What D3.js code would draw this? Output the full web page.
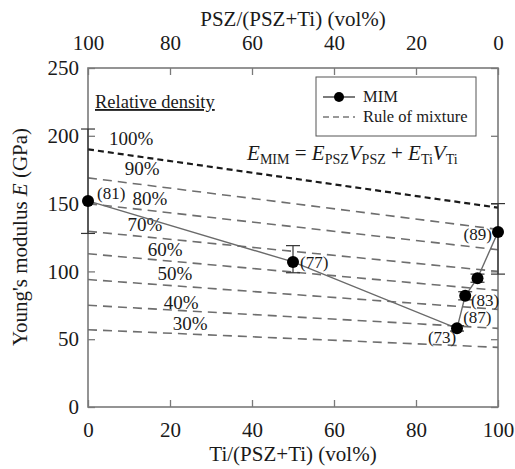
<!DOCTYPE html>
<html>
<head>
<meta charset="utf-8">
<script src="https://cdn.jsdelivr.net/npm/d3@7"></script>
</head>
<body style="margin:0">
<svg id="chart" width="515" height="469"></svg>
<script>
// MIM measured points
const tiContent = [0, 50, 90, 92, 95, 100];
const mimModulus = [152, 107, 58, 82, 95, 129];
const errLow = [128, 99, 56, 79, 92, 98];
const errHigh = [205, 119, 60, 85, 98, 150];

// relative density labels next to the points
const pointLabels = ["(81)", "(77)", "(73)", "(87)", "(83)", "(89)"];
const pointLabelX = [2.2, 51.7, 82.9, 91.5, 93.4, 98.5];
const pointLabelE = [153.4, 102.5, 47.2, 62, 74.5, 123];
const pointLabelAnchor = ["start", "start", "start", "start", "start", "end"];

// rule of mixture lines (E at Ti = 0 and Ti = 100)
const densities = ["100%", "90%", "80%", "70%", "60%", "50%", "40%", "30%"];
const ruleLeftE = [190, 169, 150, 129.6, 113, 94, 75, 57];
const ruleRightE = [147, 131, 116, 100, 86, 72, 58, 44];
const densityLabelX = [10.5, 13.2, 15.1, 13.9, 18.8, 21.2, 22.7, 24.9];
const densityLabelE = [193, 171, 149, 130, 111, 94, 72, 57];

const xTicks = [0, 20, 40, 60, 80, 100];
const yTicks = [0, 50, 100, 150, 200, 250];

const fontFam = '"Liberation Serif", "Times New Roman", Tinos, serif';

const W = 515, H = 469;
const margin = { top: 68, right: 17, bottom: 62, left: 88 },
  width = W - margin.left - margin.right,
  height = H - margin.top - margin.bottom;

const svg = d3.select("#chart").style("font-family", fontFam);

svg.append("rect").attr("width", W).attr("height", H).attr("fill", "#fff");

const g = svg.append("g")
  .attr("transform", `translate(${margin.left},${margin.top})`);

const x = d3.scaleLinear().domain([0, 100]).range([0, width]);
const xTop = d3.scaleLinear().domain([100, 0]).range([0, width]);
const y = d3.scaleLinear().domain([0, 250]).range([height, 0]);

const frameColor = "#7a7a7a";

// helper so every label gets the same serif face
function label(parent, txt, px, py, size, anchor) {
  return parent.append("text")
    .attr("x", px)
    .attr("y", py)
    .attr("text-anchor", anchor || "start")
    .attr("fill", "#1a1a1a")
    .style("font-family", fontFam)
    .style("font-size", size + "px")
    .text(txt);
}

// axes with inward ticks
function styleAxis(sel) {
  sel.attr("font-family", null).attr("font-size", null);
  sel.select(".domain").remove();
  sel.selectAll(".tick line").attr("stroke", frameColor).attr("stroke-width", 1.3);
  sel.selectAll("text")
    .attr("fill", "#1a1a1a")
    .style("font-family", fontFam)
    .style("font-size", "21px");
}

g.append("g")
  .attr("transform", `translate(0,${height})`)
  .call(d3.axisBottom(x).tickValues(xTicks).tickSizeInner(-7).tickSizeOuter(0).tickPadding(15))
  .call(styleAxis);

g.append("g")
  .call(d3.axisTop(xTop).tickValues(xTicks).tickSizeInner(-7).tickSizeOuter(0).tickPadding(18))
  .call(styleAxis);

g.append("g")
  .call(d3.axisLeft(y).tickValues(yTicks).tickSizeInner(-7).tickSizeOuter(0).tickPadding(9))
  .call(styleAxis);

g.append("g")
  .attr("transform", `translate(${width},0)`)
  .call(d3.axisRight(y).tickValues(yTicks).tickSizeInner(-7).tickSizeOuter(0).tickFormat(""))
  .call(styleAxis);

// frame
g.append("rect")
  .attr("width", width)
  .attr("height", height)
  .attr("fill", "none")
  .attr("stroke", frameColor)
  .attr("stroke-width", 1.6);

// rule of mixture lines
densities.forEach((d, i) => {
  g.append("line")
    .attr("x1", x(0)).attr("y1", y(ruleLeftE[i]))
    .attr("x2", x(100)).attr("y2", y(ruleRightE[i]))
    .attr("stroke", i === 0 ? "#1a1a1a" : "#6e6e6e")
    .attr("stroke-width", i === 0 ? 2.2 : 1.6)
    .attr("stroke-dasharray", i === 0 ? "6,4" : "9,6");

  label(g, d, x(densityLabelX[i]), y(densityLabelE[i]), 19, "middle");
});

// error bars
tiContent.forEach((t, i) => {
  const cx = x(t);
  g.append("line")
    .attr("x1", cx).attr("x2", cx)
    .attr("y1", y(errLow[i])).attr("y2", y(errHigh[i]))
    .attr("stroke", "#333").attr("stroke-width", 1.2);
  [errLow[i], errHigh[i]].forEach(v => {
    g.append("line")
      .attr("x1", cx - 7).attr("x2", cx + 7)
      .attr("y1", y(v)).attr("y2", y(v))
      .attr("stroke", "#333").attr("stroke-width", 1.2);
  });
});

// MIM line and points
const mimData = tiContent.map((t, i) => ({ t: t, e: mimModulus[i] }));
g.append("path")
  .datum(mimData)
  .attr("fill", "none")
  .attr("stroke", "#6a6a6a")
  .attr("stroke-width", 1.4)
  .attr("d", d3.line().x(d => x(d.t)).y(d => y(d.e)));

g.selectAll(".pt")
  .data(mimData)
  .enter()
  .append("circle")
  .attr("cx", d => x(d.t))
  .attr("cy", d => y(d.e))
  .attr("r", 6)
  .attr("fill", "#000");

pointLabels.forEach((lab, i) => {
  label(g, lab, x(pointLabelX[i]), y(pointLabelE[i]), 17, pointLabelAnchor[i]);
});

// "Relative density" heading
label(g, "Relative density", 7, 40, 18.5).attr("text-decoration", "underline");

// equation
const eq = label(g, null, x(38.8), y(182), 21);
const parts = [
  ["E", "main"], ["MIM", "sub"], [" = ", "op"], ["E", "main"], ["PSZ", "sub"],
  ["V", "main"], ["PSZ", "sub"], [" + ", "op"], ["E", "main"], ["Ti", "sub"],
  ["V", "main"], ["Ti", "sub"]
];
let down = false;
parts.forEach(p => {
  const ts = eq.append("tspan").text(p[0]);
  if (p[1] === "sub") {
    ts.style("font-size", "14px").attr("dy", 4);
    down = true;
  } else {
    if (down) { ts.attr("dy", -4); down = false; }
    if (p[1] === "main") ts.style("font-style", "italic");
  }
});

// legend
const legend = g.append("g").attr("transform", `translate(${width - 182}, 9)`);
legend.append("rect")
  .attr("width", 160).attr("height", 59)
  .attr("fill", "#fff")
  .attr("stroke", "#555").attr("stroke-width", 1);
legend.append("line")
  .attr("x1", 7).attr("x2", 39).attr("y1", 20).attr("y2", 20)
  .attr("stroke", "#333").attr("stroke-width", 1.3);
legend.append("circle").attr("cx", 23).attr("cy", 20).attr("r", 5).attr("fill", "#000");
label(legend, "MIM", 47, 25, 16.5);
legend.append("line")
  .attr("x1", 7).attr("x2", 39).attr("y1", 40).attr("y2", 40)
  .attr("stroke", "#777").attr("stroke-width", 1.3).attr("stroke-dasharray", "6,4");
label(legend, "Rule of mixture", 47, 45, 16.5);

// axis titles
label(svg, "Ti/(PSZ+Ti) (vol%)", margin.left + width / 2, 461, 21, "middle");
label(svg, "PSZ/(PSZ+Ti) (vol%)", margin.left + width / 2, 26, 21, "middle");

const yTitle = label(svg, null, 0, 0, 21, "middle")
  .attr("x", null).attr("y", null)
  .attr("transform", "translate(27,237) rotate(-90)");
yTitle.append("tspan").text("Young's modulus ");
yTitle.append("tspan").style("font-style", "italic").text("E");
yTitle.append("tspan").text(" (GPa)");
</script>
</body>
</html>
